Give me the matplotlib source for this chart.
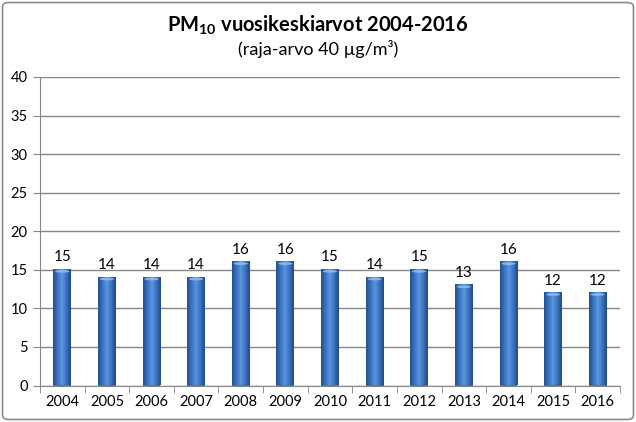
import numpy as np
import matplotlib
matplotlib.use("Agg")
import matplotlib.pyplot as plt
from matplotlib.colors import LinearSegmentedColormap
from matplotlib.patches import FancyBboxPatch, Ellipse

years = ["2004", "2005", "2006", "2007", "2008", "2009", "2010",
         "2011", "2012", "2013", "2014", "2015", "2016"]
pm10 = [15, 14, 14, 14, 16, 16, 15, 14, 15, 13, 16, 12, 12]
y_ticks = [0, 5, 10, 15, 20, 25, 30, 35, 40]

plt.rcParams['font.family'] = ['Lato', 'DejaVu Sans']
plt.rcParams['mathtext.fontset'] = 'custom'
plt.rcParams['mathtext.rm'] = 'Lato'
plt.rcParams['mathtext.bf'] = 'Lato:bold'

fig = plt.figure(figsize=(6.36, 4.22), dpi=100)
ax = fig.add_axes([40 / 636, 1 - 385.5 / 422, 580 / 636, 308.5 / 422])

# border round the whole chart
fig.patches.append(FancyBboxPatch((0.004, 0.006), 0.992, 0.988,
                                  boxstyle="round,pad=0,rounding_size=0.01",
                                  transform=fig.transFigure, fill=False,
                                  edgecolor='#8c8c8c', linewidth=1.2))

x = np.arange(len(years))
width = 0.4
grad = LinearSegmentedColormap.from_list(
    "bar", ["#234f8e", "#3a72c0", "#5b96e0", "#3a72c0", "#1f4a86"])
g = np.linspace(0, 1, 64).reshape(1, -1)

bars = ax.bar(x, pm10, width, color='#3a72c0', zorder=2)
for b, v in zip(bars, pm10):
    x0 = b.get_x()
    ax.imshow(g, cmap=grad, aspect='auto', zorder=3,
              extent=(x0, x0 + width, 0, v), interpolation='bilinear')
    # soft lighter cap on the top of each bar
    ax.add_patch(Ellipse((x0 + width / 2, v - 0.2), width * 0.8, 0.35,
                         facecolor='#8dbcef', edgecolor='none', alpha=0.9,
                         zorder=4))
    ax.text(x0 + width / 2, v + 0.7, str(v), ha='center', va='bottom',
            fontsize=11, color='black')

ax.set_xlim(-0.5, len(years) - 0.5)
ax.set_ylim(0, 40)
ax.set_yticks(y_ticks)
ax.set_yticklabels([str(t) for t in y_ticks], fontsize=10.5)
ax.set_xticks(x)
ax.set_xticklabels(years, fontsize=10.5)
ax.set_xticks(np.arange(-0.5, len(years)), minor=True)
ax.tick_params(axis='x', which='major', length=0, pad=7)
ax.tick_params(axis='x', which='minor', length=5, color='#868686', direction='out')
ax.tick_params(axis='y', length=5, color='#868686', direction='out', pad=4)
ax.yaxis.grid(True, color='#868686', linewidth=1)
ax.set_axisbelow(True)
for s in ['top', 'right']:
    ax.spines[s].set_visible(False)
for s in ['left', 'bottom']:
    ax.spines[s].set_color('#868686')

fig.text(0.5, 1 - 25 / 422, r"PM$_{\mathbf{10}}$ vuosikeskiarvot 2004-2016",
         ha='center', va='center', fontsize=14.5, fontweight='bold')
fig.text(0.5, 1 - 49 / 422, "(raja-arvo 40 µg/m³)", ha='center', va='center',
         fontsize=13)

fig.savefig("out.png", dpi=100)
